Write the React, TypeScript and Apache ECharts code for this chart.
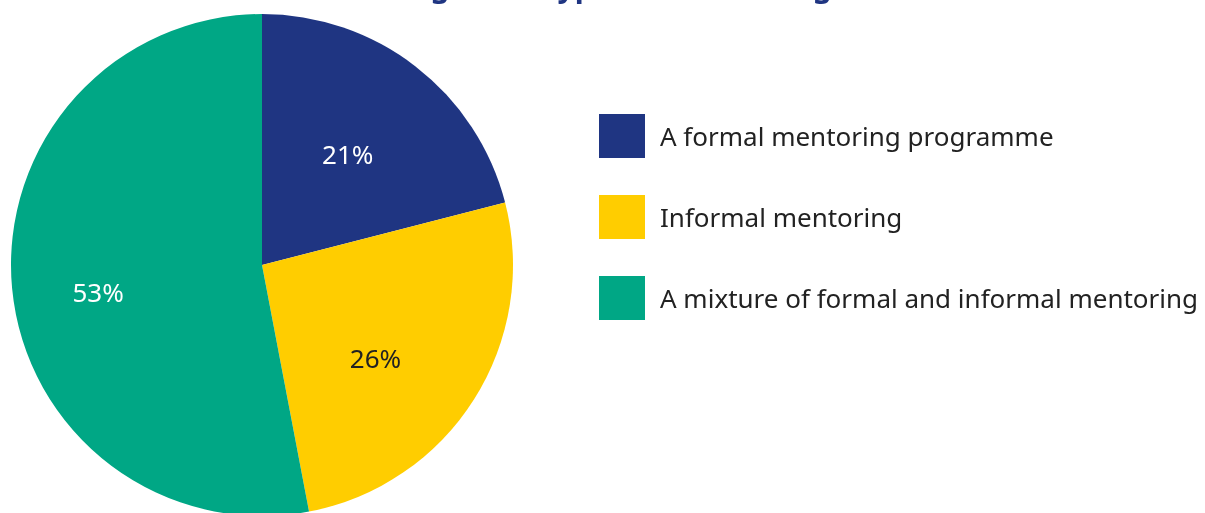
import React, { useEffect, useRef } from "react";
import * as echarts from "echarts";

const categories = [
  "A formal mentoring programme",
  "Informal mentoring",
  "A mixture of formal and informal mentoring",
];
const values = [21, 26, 53];
const colors = ["#1F3582", "#FFCD00", "#00A785"];
const labelColors = ["#ffffff", "#222222", "#ffffff"];
const labelOffsets = [[7, -9], [5, 24], [-36, 15]];
const titleText = "Figure 3: Types of mentoring";

export default function App() {
  const ref = useRef<HTMLDivElement>(null);
  useEffect(() => {
    if (!ref.current) return;
    const chart = echarts.init(ref.current, null, { renderer: "svg" });
    chart.setOption({
      animation: false,
      graphic: [
        {
          type: "text",
          left: 405,
          top: -30,
          style: {
            text: titleText,
            fill: "#1F3582",
            font: "bold 30px 'Noto Sans'",
          },
        },
      ],
      legend: {
        orient: "vertical",
        left: 599,
        top: 114,
        padding: 0,
        itemWidth: 46,
        itemHeight: 44,
        itemGap: 37,
        icon: "rect",
        textStyle: {
          fontFamily: "'Noto Sans'",
          fontSize: 26,
          color: "#222222",
          padding: [0, 0, 5, 10],
        },
        data: categories,
      },
      series: [
        {
          type: "pie",
          center: [262, 265],
          radius: 251,
          startAngle: 90,
          clockwise: true,
          label: {
            show: true,
            position: "inside",
            formatter: "{c}%",
            fontFamily: "'Noto Sans'",
            fontSize: 26,
          },
          labelLine: { show: false },
          emphasis: { disabled: true },
          data: categories.map((name, i) => ({
            name,
            value: values[i],
            itemStyle: { color: colors[i] },
            label: { color: labelColors[i], offset: labelOffsets[i] },
          })),
        },
      ],
    });
    return () => chart.dispose();
  }, []);
  return (
    <div
      ref={ref}
      style={{ position: "fixed", left: 0, top: 0, width: 1205, height: 513 }}
    />
  );
}
